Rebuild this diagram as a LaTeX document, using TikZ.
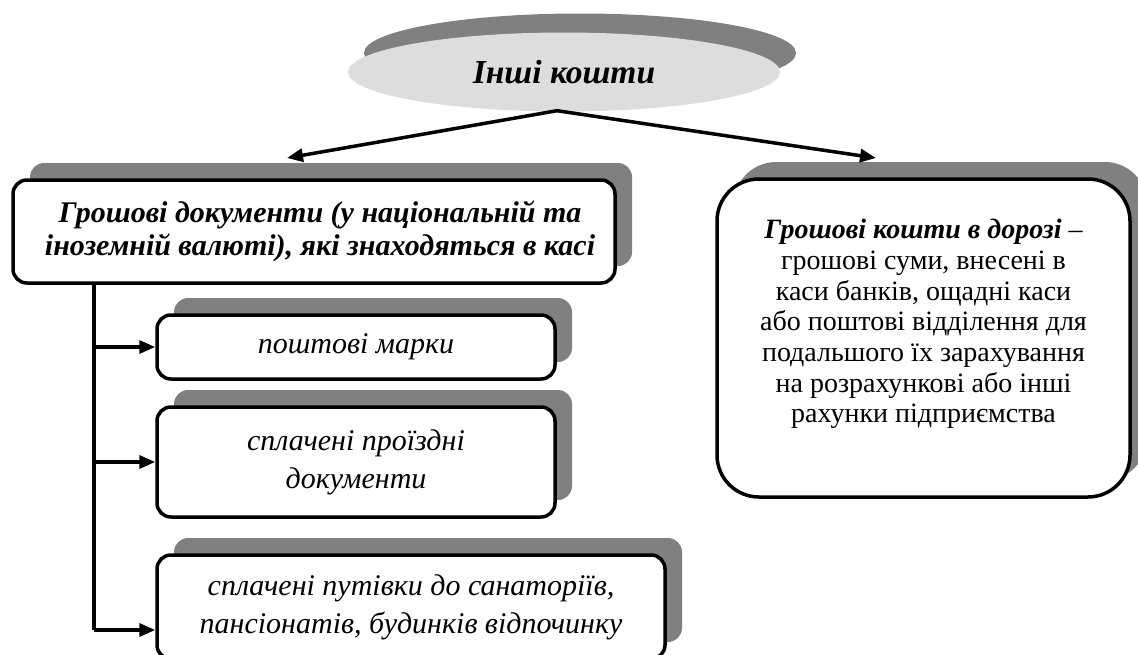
\documentclass[tikz,border=0pt]{standalone}
\usepackage{fontspec}
\setmainfont{Liberation Serif}
\usetikzlibrary{arrows.meta,shadows,shapes.geometric}
\definecolor{shadowgray}{HTML}{808080}
\definecolor{ellgray}{HTML}{DDDDDD}
\tikzset{
  boxshadow/.style={drop shadow={shadow xshift=17pt,shadow yshift=17pt,fill=shadowgray,opacity=1}},
  mainbox/.style={draw=black,line width=3.5pt,fill=white,rounded corners=14pt,inner sep=0pt,align=center,boxshadow},
  conn/.style={line width=3.5pt,draw=black},
  arr/.style={conn,-{Triangle[length=16pt,width=13pt]}},
  titlefont/.style={font=\fontsize{33.5}{38}\selectfont\bfseries\itshape},
  leadfont/.style={font=\fontsize{30}{33}\selectfont\bfseries\itshape},
  subfont/.style={font=\fontsize{30}{38}\selectfont\itshape},
  bodyfont/.style={font=\fontsize{28}{30.7}\selectfont},
}
\begin{document}
\begin{tikzpicture}[x=1pt,y=-1pt]
\useasboundingbox (0,0) rectangle (1138,654);
% top ellipse
\node[ellipse,fill=ellgray,minimum width=432pt,minimum height=79pt,inner sep=0pt,
  drop shadow={shadow xshift=16pt,shadow yshift=19pt,fill=shadowgray,opacity=1},titlefont]
  (top) at (564,72) {Інші кошти};
% left main box
\node[mainbox,minimum width=602pt,minimum height=103pt,leadfont] (lb) at (314,231.5)
  {\hspace*{12pt}Грошові документи (у національній та\\\hspace*{12pt}іноземній валюті), які знаходяться в касі};
% sub boxes
\node[mainbox,minimum width=398pt,minimum height=64pt,subfont] (b1) at (356,347) {поштові марки};
\node[mainbox,minimum width=398pt,minimum height=110pt,subfont] (b2) at (356,462)
  {сплачені проїздні\\документи};
\node[mainbox,minimum width=508pt,minimum height=104pt,subfont] (b3) at (411,607)
  {сплачені путівки до санаторіїв,\\пансіонатів, будинків відпочинку};
% right box
\node[mainbox,rounded corners=42pt,minimum width=413pt,minimum height=318pt] (rb) at (923.5,338) {};
\node[bodyfont,align=center,inner sep=0pt] (rbt) at ([yshift=14pt]rb.center)
  {\textbf{\textit{Грошові кошти в дорозі}} –\\грошові суми, внесені в\\каси банків, ощадні каси\\або поштові відділення для\\подальшого їх зарахування\\на розрахункові або інші\\рахунки підприємства};
% connectors
\coordinate (src) at ([xshift=-7pt,yshift=1pt]top.south);
\coordinate (lt) at (287,158);
\coordinate (rt) at (876,158);
\draw[arr] (src) -- (lt);
\draw[arr] (src) -- (rt);
\coordinate (t0) at (94,283);
\coordinate (t3) at (94,630);
\draw[conn] (t0) -- (t3);
\draw[arr] (t0 |- b1.west) -- (b1.west);
\draw[arr] (t0 |- b2.west) -- (b2.west);
\draw[arr] (t3) -- (t3 -| b3.west);
\end{tikzpicture}
\end{document}
